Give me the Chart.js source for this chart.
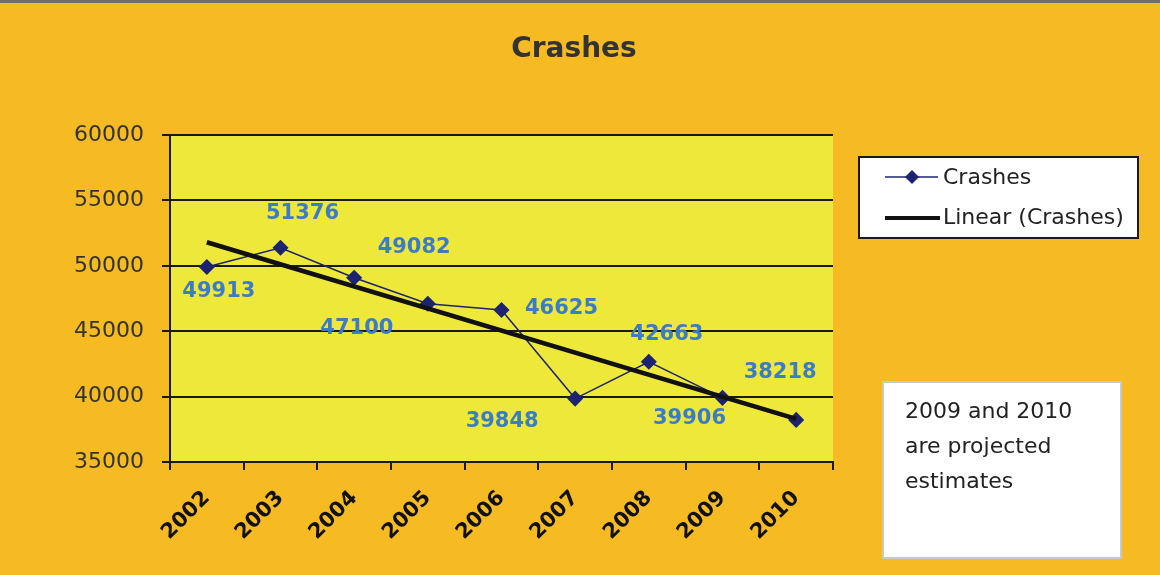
<!DOCTYPE html>
<html>
<head>
<meta charset="utf-8">
<script src="https://cdn.jsdelivr.net/npm/chart.js@4.4.1/dist/chart.umd.min.js"></script>
<style>
  html, body { margin: 0; padding: 0; background: #f6bb22; }
  #wrap { width: 1160px; height: 575px; position: relative; }
</style>
</head>
<body>
<div id="wrap"><canvas id="crashChart" width="1160" height="575"></canvas></div>
<script>
// chart data
var years = ["2002", "2003", "2004", "2005", "2006", "2007", "2008", "2009", "2010"];
var crashes = [49913, 51376, 49082, 47100, 46625, 39848, 42663, 39906, 38218];
// trend line end points (2002 and 2010)
var trendLine = [51800, null, null, null, null, null, null, null, 38300];
var yTicks = [35000, 40000, 45000, 50000, 55000, 60000];
var noteLines = ["2009 and 2010", "are projected", "estimates"];

var navy = "#1c2470";
var labelBlue = "#3b7cc6";

// yellow plot area, top border line, title
var backdrop = {
    id: "backdrop",
    beforeDraw: function (chart) {
        var c = chart.ctx, a = chart.chartArea;
        c.save();
        c.fillStyle = "#6e6e6e";
        c.fillRect(0, 0, chart.width, 3);
        c.fillStyle = "#eee83a";
        c.fillRect(a.left, a.top, a.right - a.left, a.bottom - a.top);
        c.fillStyle = "#333";
        c.font = "bold 28px 'DejaVu Sans'";
        c.textAlign = "center";
        c.textBaseline = "middle";
        c.fillText("Crashes", 574, 50);
        c.restore();
    }
};

// value labels next to each point (placement like the original sheet)
var valueLabels = {
    id: "valueLabels",
    afterDatasetsDraw: function (chart) {
        var offsets = [[12, 25], [22, -34], [60, -30], [-71, 25], [60, -1],
                       [-73, 23], [18, -27], [-33, 21], [-16, -47]];
        var meta = chart.getDatasetMeta(1);
        var c = chart.ctx;
        c.save();
        c.font = "bold 21px 'DejaVu Sans'";
        c.fillStyle = labelBlue;
        c.textAlign = "center";
        c.textBaseline = "middle";
        meta.data.forEach(function (pt, i) {
            c.fillText(String(crashes[i]), pt.x + offsets[i][0], pt.y + offsets[i][1]);
        });
        c.restore();
    }
};

// legend box and the note box on the right
var sideBoxes = {
    id: "sideBoxes",
    afterDraw: function (chart) {
        var c = chart.ctx;
        c.save();
        // legend
        c.fillStyle = "#fff";
        c.fillRect(859, 157, 279, 81);
        c.strokeStyle = "#1a1a1a";
        c.lineWidth = 2;
        c.strokeRect(859, 157, 279, 81);

        c.strokeStyle = navy;
        c.lineWidth = 1.5;
        c.beginPath(); c.moveTo(885, 177); c.lineTo(938, 177); c.stroke();
        c.fillStyle = navy;
        c.beginPath();
        c.moveTo(912, 170); c.lineTo(919, 177); c.lineTo(912, 184); c.lineTo(905, 177);
        c.closePath(); c.fill();

        c.strokeStyle = "#111";
        c.lineWidth = 4;
        c.beginPath(); c.moveTo(885, 218); c.lineTo(940, 218); c.stroke();

        c.fillStyle = "#222";
        c.font = "22px 'DejaVu Sans'";
        c.textAlign = "left";
        c.textBaseline = "middle";
        c.fillText(chart.data.datasets[1].label, 943, 178);
        c.fillText(chart.data.datasets[0].label, 943, 218);

        // note
        c.fillStyle = "#fff";
        c.fillRect(883, 382, 238, 176);
        c.strokeStyle = "#c8c8c8";
        c.lineWidth = 2;
        c.strokeRect(883, 382, 238, 176);
        c.fillStyle = "#222";
        c.font = "22px 'DejaVu Sans'";
        c.textBaseline = "alphabetic";
        noteLines.forEach(function (t, i) {
            c.fillText(t, 905, 418 + i * 35);
        });
        c.restore();
    }
};

var ctx = document.getElementById("crashChart").getContext("2d");

new Chart(ctx, {
    type: "line",
    data: {
        labels: years,
        datasets: [{
            label: "Linear (Crashes)",
            data: trendLine,
            spanGaps: true,
            borderColor: "#111",
            borderWidth: 4.5,
            pointRadius: 0,
            fill: false,
            tension: 0,
            order: 1
        }, {
            label: "Crashes",
            data: crashes,
            borderColor: navy,
            borderWidth: 1.5,
            pointStyle: "rectRot",
            pointRadius: 7,
            pointBackgroundColor: navy,
            pointBorderColor: navy,
            fill: false,
            tension: 0,
            order: 2
        }]
    },
    options: {
        responsive: false,
        animation: false,
        layout: { padding: { left: 0, top: 135, right: 327, bottom: 0 } },
        plugins: {
            legend: { display: false },
            tooltip: { enabled: false },
            title: { display: false }
        },
        scales: {
            x: {
                offset: true,
                grid: { offset: true, drawOnChartArea: false, drawTicks: true, tickLength: 8, color: "#1a1a1a", lineWidth: 2 },
                border: { color: "#1a1a1a", width: 2 },
                ticks: {
                    color: "#111",
                    font: { family: "DejaVu Sans", size: 21, weight: "bold" },
                    minRotation: 45,
                    maxRotation: 45,
                    padding: 16
                },
                afterFit: function (s) { s.height = 113; }
            },
            y: {
                min: 35000,
                max: 60000,
                afterBuildTicks: function (s) {
                    s.ticks = yTicks.map(function (v) { return { value: v }; });
                },
                grid: { color: "#1a1a1a", lineWidth: 2, tickLength: 8 },
                border: { color: "#1a1a1a", width: 2 },
                ticks: {
                    color: "#333",
                    font: { family: "DejaVu Sans", size: 22 },
                    padding: 18,
                    callback: function (v) { return String(v); }
                },
                afterFit: function (s) { s.width = 170; }
            }
        }
    },
    plugins: [backdrop, valueLabels, sideBoxes]
});
</script>
</body>
</html>
